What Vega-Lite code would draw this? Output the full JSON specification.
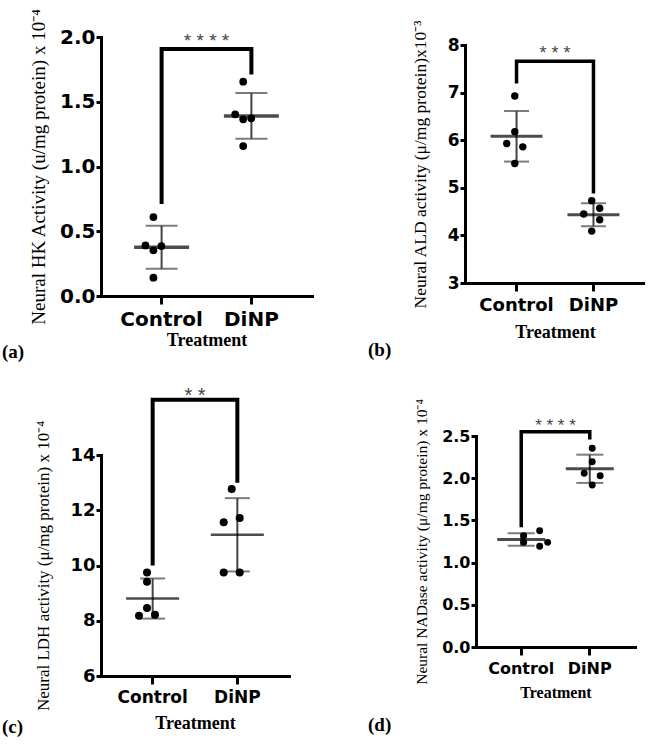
{
  "$schema": "https://vega.github.io/schema/vega-lite/v6.json",
  "background": "white",
  "padding": {"left": 2, "top": 8, "right": 0, "bottom": 0},
  "columns": 2,
  "align": {"row": "all", "column": "none"},
  "spacing": {"row": 24, "column": 56},
  "config": {
    "view": {"stroke": null},
    "axis": {"grid": false, "domainColor": "black", "tickColor": "black", "labelColor": "black", "titleColor": "black", "domainWidth": 3, "tickWidth": 3, "domainCap": "square", "labelFont": "DejaVu Sans", "labelFontWeight": "bold", "titleFont": "Liberation Serif"},
    "axisX": {"labelAngle": 0, "titleFontWeight": "bold", "tickSize": 8, "labelPadding": 5},
    "axisY": {"titleFontWeight": "normal", "tickSize": 5, "labelPadding": 1}
  },
  "datasets": {
    "pts": [
      {"panel": "a", "group": "Control", "value": 0.61, "col": "C"},
      {"panel": "a", "group": "Control", "value": 0.39, "col": "L"},
      {"panel": "a", "group": "Control", "value": 0.353, "col": "C"},
      {"panel": "a", "group": "Control", "value": 0.386, "col": "R"},
      {"panel": "a", "group": "Control", "value": 0.141, "col": "C"},
      {"panel": "a", "group": "DiNP", "value": 1.655, "col": "C"},
      {"panel": "a", "group": "DiNP", "value": 1.403, "col": "L"},
      {"panel": "a", "group": "DiNP", "value": 1.364, "col": "C"},
      {"panel": "a", "group": "DiNP", "value": 1.372, "col": "R"},
      {"panel": "a", "group": "DiNP", "value": 1.158, "col": "C"},
      {"panel": "b", "group": "Control", "value": 6.93, "col": "C"},
      {"panel": "b", "group": "Control", "value": 6.18, "col": "C"},
      {"panel": "b", "group": "Control", "value": 5.93, "col": "L"},
      {"panel": "b", "group": "Control", "value": 5.86, "col": "R"},
      {"panel": "b", "group": "Control", "value": 5.51, "col": "C"},
      {"panel": "b", "group": "DiNP", "value": 4.73, "col": "C"},
      {"panel": "b", "group": "DiNP", "value": 4.57, "col": "R"},
      {"panel": "b", "group": "DiNP", "value": 4.45, "col": "L"},
      {"panel": "b", "group": "DiNP", "value": 4.33, "col": "R"},
      {"panel": "b", "group": "DiNP", "value": 4.09, "col": "C"},
      {"panel": "c", "group": "Control", "value": 9.75, "col": "C"},
      {"panel": "c", "group": "Control", "value": 9.41, "col": "C"},
      {"panel": "c", "group": "Control", "value": 8.46, "col": "C"},
      {"panel": "c", "group": "Control", "value": 8.18, "col": "L"},
      {"panel": "c", "group": "Control", "value": 8.22, "col": "R"},
      {"panel": "c", "group": "DiNP", "value": 12.77, "col": "C"},
      {"panel": "c", "group": "DiNP", "value": 11.57, "col": "L"},
      {"panel": "c", "group": "DiNP", "value": 11.72, "col": "R"},
      {"panel": "c", "group": "DiNP", "value": 9.75, "col": "L"},
      {"panel": "c", "group": "DiNP", "value": 9.75, "col": "R"},
      {"panel": "d", "group": "Control", "value": 1.378, "col": "LL"},
      {"panel": "d", "group": "Control", "value": 1.319, "col": "C"},
      {"panel": "d", "group": "Control", "value": 1.24, "col": "C"},
      {"panel": "d", "group": "Control", "value": 1.24, "col": "RR"},
      {"panel": "d", "group": "Control", "value": 1.193, "col": "LL"},
      {"panel": "d", "group": "DiNP", "value": 2.354, "col": "C"},
      {"panel": "d", "group": "DiNP", "value": 2.195, "col": "C"},
      {"panel": "d", "group": "DiNP", "value": 2.058, "col": "L"},
      {"panel": "d", "group": "DiNP", "value": 2.03, "col": "R"},
      {"panel": "d", "group": "DiNP", "value": 1.92, "col": "C"}
    ],
    "brk": [
      {"panel": "a", "group": "Control", "value": 0.71, "seq": 1},
      {"panel": "a", "group": "Control", "value": 1.907, "seq": 2},
      {"panel": "a", "group": "DiNP", "value": 1.907, "seq": 3},
      {"panel": "a", "group": "DiNP", "value": 1.71, "seq": 4},
      {"panel": "b", "group": "Control", "value": 7.19, "seq": 1},
      {"panel": "b", "group": "Control", "value": 7.66, "seq": 2},
      {"panel": "b", "group": "DiNP", "value": 7.66, "seq": 3},
      {"panel": "b", "group": "DiNP", "value": 4.88, "seq": 4},
      {"panel": "c", "group": "Control", "value": 10.0, "seq": 1},
      {"panel": "c", "group": "Control", "value": 16.0, "seq": 2},
      {"panel": "c", "group": "DiNP", "value": 16.0, "seq": 3},
      {"panel": "c", "group": "DiNP", "value": 13.0, "seq": 4},
      {"panel": "d", "group": "Control", "value": 1.42, "seq": 1},
      {"panel": "d", "group": "Control", "value": 2.55, "seq": 2},
      {"panel": "d", "group": "DiNP", "value": 2.55, "seq": 3},
      {"panel": "d", "group": "DiNP", "value": 2.46, "seq": 4}
    ],
    "sig": [
      {"panel": "a", "group": "DiNP", "value": 1.97, "label": "* * * *"},
      {"panel": "b", "group": "DiNP", "value": 7.82, "label": "* * *"},
      {"panel": "c", "group": "DiNP", "value": 16.12, "label": "* *"},
      {"panel": "d", "group": "DiNP", "value": 2.62, "label": "* * * *"}
    ]
  },
  "concat": [
    {
      "width": 211, "height": 259,
      "title": {"text": "(a)", "orient": "bottom", "anchor": "start", "frame": "group", "dx": -99, "dy": -6, "offset": 0, "baseline": "top", "font": "Liberation Serif", "fontSize": 19, "fontWeight": "bold", "color": "black"},
      "encoding": {
        "x": {"field": "group", "type": "nominal", "scale": {"domain": ["Control", "DiNP"], "paddingInner": 0, "paddingOuter": 0.175},
          "axis": {"title": "Treatment", "titleFontSize": 18, "labelFontSize": 20, "titlePadding": 2}},
        "y": {"field": "value", "type": "quantitative", "scale": {"domain": [0, 2], "nice": false, "zero": false},
          "axis": {"title": "Neural HK Activity (u/mg protein) x 10⁻⁴", "values": [0, 0.5, 1, 1.5, 2], "format": ".1f", "labelFontSize": 20, "titleFontSize": 19, "titlePadding": 11}}
      },
      "layer": [
        {"data": {"name": "pts"}, "transform": [{"filter": "datum.panel === 'a'"}],
          "mark": {"type": "errorbar", "extent": "stdev", "color": "#444", "thickness": 2, "ticks": {"size": 32}}},
        {"data": {"name": "pts"}, "transform": [{"filter": "datum.panel === 'a'"}, {"aggregate": [{"op": "mean", "field": "value", "as": "value"}], "groupby": ["group"]}],
          "mark": {"type": "tick", "size": 55, "thickness": 3.5, "color": "black"}},
        {"data": {"name": "pts"}, "transform": [{"filter": "datum.panel === 'a'"}],
          "mark": {"type": "circle", "size": 60, "color": "black", "opacity": 1},
          "encoding": {"xOffset": {"field": "col", "type": "nominal", "scale": {"type": "point", "padding": 0, "domain": ["L", "C", "R"], "range": [28.7, 60.7]}}}},
        {"data": {"name": "brk"}, "transform": [{"filter": "datum.panel === 'a'"}],
          "mark": {"type": "line", "color": "black", "strokeWidth": 4, "strokeJoin": "miter", "strokeCap": "butt"},
          "encoding": {"order": {"field": "seq", "type": "quantitative"}}},
        {"data": {"name": "sig"}, "transform": [{"filter": "datum.panel === 'a'"}],
          "mark": {"type": "text", "font": "Liberation Sans", "fontSize": 19, "color": "#444", "baseline": "middle", "align": "center"},
          "encoding": {"x": {"field": "group", "type": "nominal", "bandPosition": 0, "scale": {"domain": ["Control", "DiNP"], "paddingInner": 0, "paddingOuter": 0.175}}, "text": {"field": "label"}}}
      ]
    },
    {
      "width": 180, "height": 246,
      "title": {"text": "(b)", "orient": "bottom", "anchor": "start", "frame": "group", "dx": -97, "dy": 0, "offset": 0, "baseline": "top", "font": "Liberation Serif", "fontSize": 19, "fontWeight": "bold", "color": "black"},
      "encoding": {
        "x": {"field": "group", "type": "nominal", "scale": {"domain": ["Control", "DiNP"], "paddingInner": 0, "paddingOuter": 0.17},
          "axis": {"title": "Treatment", "titleFontSize": 18, "labelFontSize": 18, "titlePadding": 9}},
        "y": {"field": "value", "type": "quantitative", "scale": {"domain": [3, 8], "nice": false, "zero": false, "range": [246, 8]},
          "axis": {"title": "Neural ALD activity (μ/mg protein)x10⁻³", "values": [3, 4, 5, 6, 7, 8], "format": "d", "labelFontSize": 17, "titleFontSize": 17.5, "titlePadding": 18}}
      },
      "layer": [
        {"data": {"name": "pts"}, "transform": [{"filter": "datum.panel === 'b'"}],
          "mark": {"type": "errorbar", "extent": "stdev", "color": "#444", "thickness": 2, "ticks": {"size": 25}}},
        {"data": {"name": "pts"}, "transform": [{"filter": "datum.panel === 'b'"}, {"aggregate": [{"op": "mean", "field": "value", "as": "value"}], "groupby": ["group"]}],
          "mark": {"type": "tick", "size": 52, "thickness": 3, "color": "black"}},
        {"data": {"name": "pts"}, "transform": [{"filter": "datum.panel === 'b'"}],
          "mark": {"type": "circle", "size": 55, "color": "black", "opacity": 1},
          "encoding": {"xOffset": {"field": "col", "type": "nominal", "scale": {"type": "point", "padding": 0, "domain": ["L", "C", "R"], "range": [30.5, 46.5]}}}},
        {"data": {"name": "brk"}, "transform": [{"filter": "datum.panel === 'b'"}],
          "mark": {"type": "line", "color": "black", "strokeWidth": 3.5, "strokeJoin": "miter", "strokeCap": "butt"},
          "encoding": {"order": {"field": "seq", "type": "quantitative"}}},
        {"data": {"name": "sig"}, "transform": [{"filter": "datum.panel === 'b'"}],
          "mark": {"type": "text", "font": "Liberation Sans", "fontSize": 18, "color": "#444", "baseline": "middle", "align": "center"},
          "encoding": {"x": {"field": "group", "type": "nominal", "bandPosition": 0, "scale": {"domain": ["Control", "DiNP"], "paddingInner": 0, "paddingOuter": 0.17}}, "text": {"field": "label"}}}
      ]
    },
    {
      "width": 188, "height": 240,
      "title": {"text": "(c)", "orient": "bottom", "anchor": "start", "frame": "group", "dx": -99, "dy": -14, "offset": 0, "baseline": "top", "font": "Liberation Serif", "fontSize": 19, "fontWeight": "bold", "color": "black"},
      "encoding": {
        "x": {"field": "group", "type": "nominal", "scale": {"domain": ["Control", "DiNP"], "paddingInner": 0, "paddingOuter": 0.11},
          "axis": {"title": "Treatment", "titleFontSize": 18, "labelFontSize": 17, "titlePadding": 9}},
        "y": {"field": "value", "type": "quantitative", "scale": {"domain": [6, 14], "nice": false, "zero": false, "range": [240, 19]},
          "axis": {"title": "Neural LDH activity (μ/mg protein) x 10⁻⁴", "values": [6, 8, 10, 12, 14], "format": "d", "labelFontSize": 18, "titleFontSize": 17, "titlePadding": 17}}
      },
      "layer": [
        {"data": {"name": "pts"}, "transform": [{"filter": "datum.panel === 'c'"}],
          "mark": {"type": "errorbar", "extent": "stdev", "color": "#444", "thickness": 2, "ticks": {"size": 25}}},
        {"data": {"name": "pts"}, "transform": [{"filter": "datum.panel === 'c'"}, {"aggregate": [{"op": "mean", "field": "value", "as": "value"}], "groupby": ["group"]}],
          "mark": {"type": "tick", "size": 53, "thickness": 2.5, "color": "black"}},
        {"data": {"name": "pts"}, "transform": [{"filter": "datum.panel === 'c'"}],
          "mark": {"type": "circle", "size": 64, "color": "black", "opacity": 1},
          "encoding": {"xOffset": {"field": "col", "type": "nominal", "scale": {"type": "point", "padding": 0, "domain": ["L", "C", "R"], "range": [33.3, 51.3]}}}},
        {"data": {"name": "brk"}, "transform": [{"filter": "datum.panel === 'c'"}],
          "mark": {"type": "line", "color": "black", "strokeWidth": 4, "strokeJoin": "miter", "strokeCap": "butt"},
          "encoding": {"order": {"field": "seq", "type": "quantitative"}}},
        {"data": {"name": "sig"}, "transform": [{"filter": "datum.panel === 'c'"}],
          "mark": {"type": "text", "font": "Liberation Sans", "fontSize": 20, "color": "#444", "baseline": "middle", "align": "center"},
          "encoding": {"x": {"field": "group", "type": "nominal", "bandPosition": 0, "scale": {"domain": ["Control", "DiNP"], "paddingInner": 0, "paddingOuter": 0.11}}, "text": {"field": "label"}}}
      ]
    },
    {
      "width": 159, "height": 211,
      "title": {"text": "(d)", "orient": "bottom", "anchor": "start", "frame": "group", "dx": -108, "dy": 16, "offset": 0, "baseline": "top", "font": "Liberation Serif", "fontSize": 19, "fontWeight": "bold", "color": "black"},
      "encoding": {
        "x": {"field": "group", "type": "nominal", "scale": {"domain": ["Control", "DiNP"], "paddingInner": 0, "paddingOuter": 0.16},
          "axis": {"title": "Treatment", "titleFontSize": 16, "labelFontSize": 16, "titlePadding": 8}},
        "y": {"field": "value", "type": "quantitative", "scale": {"domain": [0, 2.5], "nice": false, "zero": false},
          "axis": {"title": "Neural NADase activity (μ/mg protein) x 10⁻⁴", "values": [0, 0.5, 1, 1.5, 2, 2.5], "format": ".1f", "labelFontSize": 16, "titleFontSize": 15.5, "titlePadding": 12}}
      },
      "layer": [
        {"data": {"name": "pts"}, "transform": [{"filter": "datum.panel === 'd'"}],
          "mark": {"type": "errorbar", "extent": "stdev", "color": "#444", "thickness": 2, "ticks": {"size": 27}}},
        {"data": {"name": "pts"}, "transform": [{"filter": "datum.panel === 'd'"}, {"aggregate": [{"op": "mean", "field": "value", "as": "value"}], "groupby": ["group"]}],
          "mark": {"type": "tick", "size": 48, "thickness": 3, "color": "black"}},
        {"data": {"name": "pts"}, "transform": [{"filter": "datum.panel === 'd'"}],
          "mark": {"type": "circle", "size": 48, "color": "black", "opacity": 1},
          "encoding": {"xOffset": {"field": "col", "type": "nominal", "scale": {"type": "point", "padding": 0, "domain": ["LL", "L", "C", "R", "RR"], "range": [20.3, 48.3]}}}},
        {"data": {"name": "brk"}, "transform": [{"filter": "datum.panel === 'd'"}],
          "mark": {"type": "line", "color": "black", "strokeWidth": 3.5, "strokeJoin": "miter", "strokeCap": "butt"},
          "encoding": {"order": {"field": "seq", "type": "quantitative"}}},
        {"data": {"name": "sig"}, "transform": [{"filter": "datum.panel === 'd'"}],
          "mark": {"type": "text", "font": "Liberation Sans", "fontSize": 17, "color": "#444", "baseline": "middle", "align": "center"},
          "encoding": {"x": {"field": "group", "type": "nominal", "bandPosition": 0, "scale": {"domain": ["Control", "DiNP"], "paddingInner": 0, "paddingOuter": 0.16}}, "text": {"field": "label"}}}
      ]
    }
  ]
}
